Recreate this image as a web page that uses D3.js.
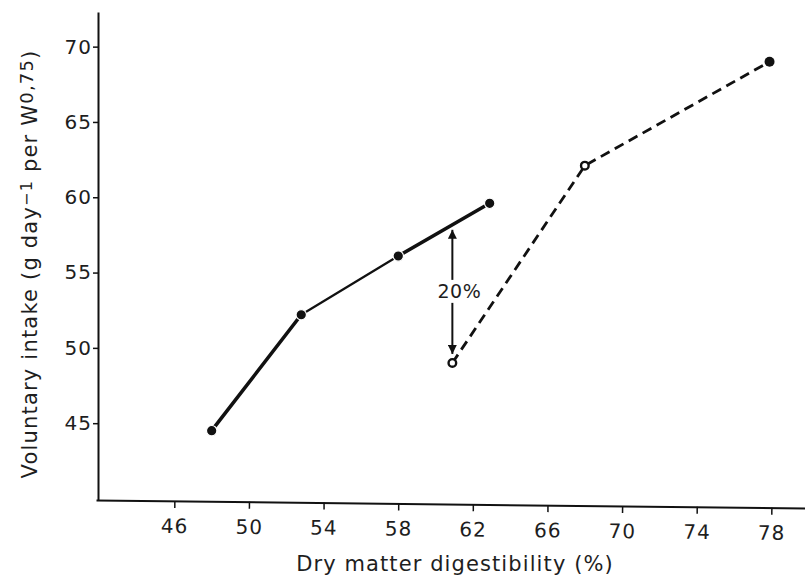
<!DOCTYPE html>
<html>
<head>
<meta charset="utf-8">
<script src="https://cdn.jsdelivr.net/npm/d3@7"></script>
<style>
  body { margin: 0; background: #fff; }
  svg { display: block; }
  text { font-family: "DejaVu Sans", sans-serif; fill: #1e1e1e; }
</style>
</head>
<body>
<div id="chart"></div>
<script>
// values
const solidX = [48, 52.8, 58, 62.9];
const solidY = [44.5, 52.2, 56.1, 59.6];
const dashedX = [60.9, 68, 77.9];
const dashedY = [49.0, 62.1, 69.0];
const dashedOpen = [true, true, false];
const xTicks = [46, 50, 54, 58, 62, 66, 70, 74, 78];
const yTicks = [45, 50, 55, 60, 65, 70];
const gapLabel = "20%";

const width = 805, height = 578;

const svg = d3.select("#chart").append("svg")
    .attr("width", width)
    .attr("height", height);

// scales
let x = d3.scaleLinear().domain([41.8, 79.8]).range([96, 805]);
let y = d3.scaleLinear().domain([39.9, 72.3]).range([500, 12]);

// arrow heads
let defs = svg.append("defs");
defs.append("marker")
    .attr("id", "head")
    .attr("viewBox", "0 0 10 10")
    .attr("refX", 10).attr("refY", 5)
    .attr("markerWidth", 9).attr("markerHeight", 9)
    .attr("markerUnits", "userSpaceOnUse")
    .attr("orient", "auto")
  .append("path")
    .attr("d", "M0,0 L10,5 L0,10 Z")
    .attr("fill", "#111");

// y axis
let yaxis = svg.append("g")
    .attr("transform", "translate(98,0)")
    .call(d3.axisLeft(y).tickValues(yTicks).tickSize(5).tickSizeOuter(0).tickPadding(1));
yaxis.select(".domain").attr("stroke", "#111").attr("stroke-width", 2);
yaxis.selectAll(".tick line").attr("stroke", "#111").attr("stroke-width", 1.5);
yaxis.selectAll(".tick text")
    .attr("font-size", 20)
    .attr("letter-spacing", 1)
    .attr("font-family", "DejaVu Sans")
    .attr("fill", "#1e1e1e");

// x axis (the scan is tilted a little, so the axis is too)
let xaxis = svg.append("g")
    .attr("transform", "translate(0,500) rotate(0.65," + x.range()[0] + ",0)")
    .call(d3.axisBottom(x).tickValues(xTicks).tickSize(7).tickSizeOuter(0).tickPadding(11));
xaxis.select(".domain").attr("stroke", "#111").attr("stroke-width", 2);
xaxis.selectAll(".tick line").attr("stroke", "#111").attr("stroke-width", 1.5);
xaxis.selectAll(".tick text")
    .attr("font-size", 20)
    .attr("letter-spacing", 1)
    .attr("font-family", "DejaVu Sans")
    .attr("fill", "#1e1e1e");

// axis titles
svg.append("text")
    .attr("x", 455).attr("y", 571)
    .attr("text-anchor", "middle")
    .attr("font-size", 21)
    .attr("letter-spacing", 1.1)
    .text("Dry matter digestibility (%)");

let ytitle = svg.append("text")
    .attr("transform", "translate(37,264) rotate(-90)")
    .attr("text-anchor", "middle")
    .attr("font-size", 21)
    .attr("letter-spacing", 1.2);
ytitle.append("tspan").text("Voluntary intake (g day");
ytitle.append("tspan").attr("baseline-shift", "30%").attr("font-size", 16).text("−1");
ytitle.append("tspan").text(" per W");
ytitle.append("tspan").attr("baseline-shift", "20%").attr("font-size", 18).text("0,75");
ytitle.append("tspan").text(")");

// solid line, drawn segment by segment (middle one is thinner)
let solid = solidX.map((d, i) => ({x: d, y: solidY[i]}));
let segW = [3.6, 2.2, 3.6];
let plot = svg.append("g");
for (let i = 0; i < solid.length - 1; i++) {
    plot.append("line")
        .attr("x1", x(solid[i].x)).attr("y1", y(solid[i].y))
        .attr("x2", x(solid[i + 1].x)).attr("y2", y(solid[i + 1].y))
        .attr("stroke", "#111")
        .attr("stroke-width", segW[i])
        .attr("stroke-linecap", "round");
}

// dashed line
let dashed = dashedX.map((d, i) => ({x: d, y: dashedY[i], open: dashedOpen[i]}));
plot.append("path")
    .datum(dashed)
    .attr("d", d3.line().x(d => x(d.x)).y(d => y(d.y)))
    .attr("fill", "none")
    .attr("stroke", "#111")
    .attr("stroke-width", 2.8)
    .attr("stroke-dasharray", "10,6");

// points (thin white ring gives the small gaps seen in the print)
plot.selectAll(".solidpt")
    .data(solid)
    .enter().append("circle")
        .attr("cx", d => x(d.x))
        .attr("cy", d => y(d.y))
        .attr("r", 5.2)
        .attr("fill", "#111")
        .attr("stroke", "#fff")
        .attr("stroke-width", 1.2);

plot.selectAll(".dashpt")
    .data(dashed)
    .enter().append("circle")
        .attr("cx", d => x(d.x))
        .attr("cy", d => y(d.y))
        .attr("r", d => d.open ? 3.8 : 5)
        .attr("fill", d => d.open ? "#fff" : "#111")
        .attr("stroke", "#111")
        .attr("stroke-width", d => d.open ? 2.4 : 0);

// 20% gap arrow between the two curves at the first open point
let ax = x(dashed[0].x);
let lower = y(dashed[0].y);
// solid line height at that digestibility
let upperVal = d3.scaleLinear().domain([solid[2].x, solid[3].x]).range([solid[2].y, solid[3].y])(dashed[0].x);
let upper = y(upperVal);
let labelY = (upper + lower) / 2 - 3;

plot.append("line")
    .attr("x1", ax).attr("y1", labelY - 11)
    .attr("x2", ax).attr("y2", upper + 5)
    .attr("stroke", "#111").attr("stroke-width", 2)
    .attr("marker-end", "url(#head)");
plot.append("line")
    .attr("x1", ax).attr("y1", labelY + 12)
    .attr("x2", ax).attr("y2", lower - 9)
    .attr("stroke", "#111").attr("stroke-width", 2)
    .attr("marker-end", "url(#head)");

plot.append("text")
    .attr("x", ax + 7).attr("y", labelY + 7)
    .attr("text-anchor", "middle")
    .attr("font-size", 19)
    .attr("letter-spacing", 0.5)
    .text(gapLabel);
</script>
</body>
</html>
